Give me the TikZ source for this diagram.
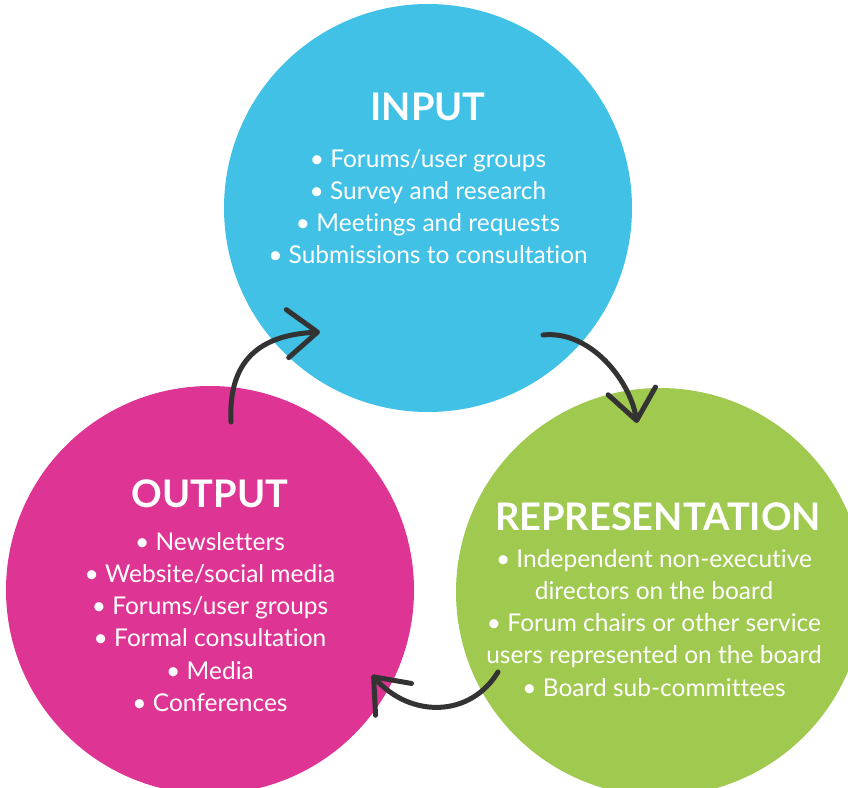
\documentclass[tikz,border=0pt]{standalone}
\usepackage{fontspec}
\setmainfont{Lato}[Ligatures=CommonOff]
\usetikzlibrary{arrows.meta,positioning}
\definecolor{inputblue}{HTML}{41C1E5}
\definecolor{reprgreen}{HTML}{A0C94F}
\definecolor{outputpink}{HTML}{DE3493}
\definecolor{pencil}{HTML}{333333}
\tikzset{
  stage/.style={circle, minimum size=408pt, inner sep=0pt},
  heading/.style={anchor=base, text=white, font=\fontsize{38}{40}\selectfont\bfseries},
  items/.style={anchor=north, text=white, align=center, inner sep=0pt, font=\fontsize{24.5}{32.2}\selectfont},
  sketch/.style={draw=pencil, line width=5pt, line cap=round, line join=round,
    -{Straight Barb[length=30pt, width=48pt, line cap=round, line join=round]}}
}
\begin{document}
\begin{tikzpicture}[x=1pt, y=-1pt]
    \useasboundingbox (0,0) rectangle (848,787);
    % the three stages
    \node[stage, fill=inputblue] (input) at (428,208) {};
    \node[stage, fill=outputpink] (output) at (210,590) {};
    \node[stage, fill=reprgreen] (repr) at (660,592) {};
    % headings and lists
    \node[heading] (inputtitle) at (428,120) {INPUT};
    \node[items] (inputlist) at (428,149) {• Forums/user groups\\ • Survey and research\\ • Meetings and requests\\ • Submissions to consultation};
    \node[heading] (outputtitle) at (210,507) {OUTPUT};
    \node[items] (outputlist) at (210,532) {• Newsletters\\ • Website/social media\\ • Forums/user groups\\ • Formal consultation\\ • Media\\ • Conferences};
    \node[heading] (reprtitle) at (658,530) {REPRESENTATION};
    \node[items] (reprlist) at (654,549) {• Independent non-executive\\ directors on the board\\ • Forum chairs or other service\\ users represented on the board\\ • Board sub-committees};
    % hand-drawn arrows between the stages
    \coordinate (outTail) at (231,422);
    \coordinate (inHead) at (320,332);
    \coordinate (inTail) at (543,335);
    \coordinate (reprHead) at (637,423);
    \coordinate (reprTail) at (498,672);
    \coordinate (outHead) at (372,675);
    \draw[sketch] (outTail) .. controls (228,360) and (260,335) .. (inHead);
    \draw[sketch] (inTail) .. controls (590,330) and (630,380) .. (reprHead);
    \draw[sketch] (reprTail) .. controls (470,718) and (410,718) .. (outHead);
\end{tikzpicture}
\end{document}
